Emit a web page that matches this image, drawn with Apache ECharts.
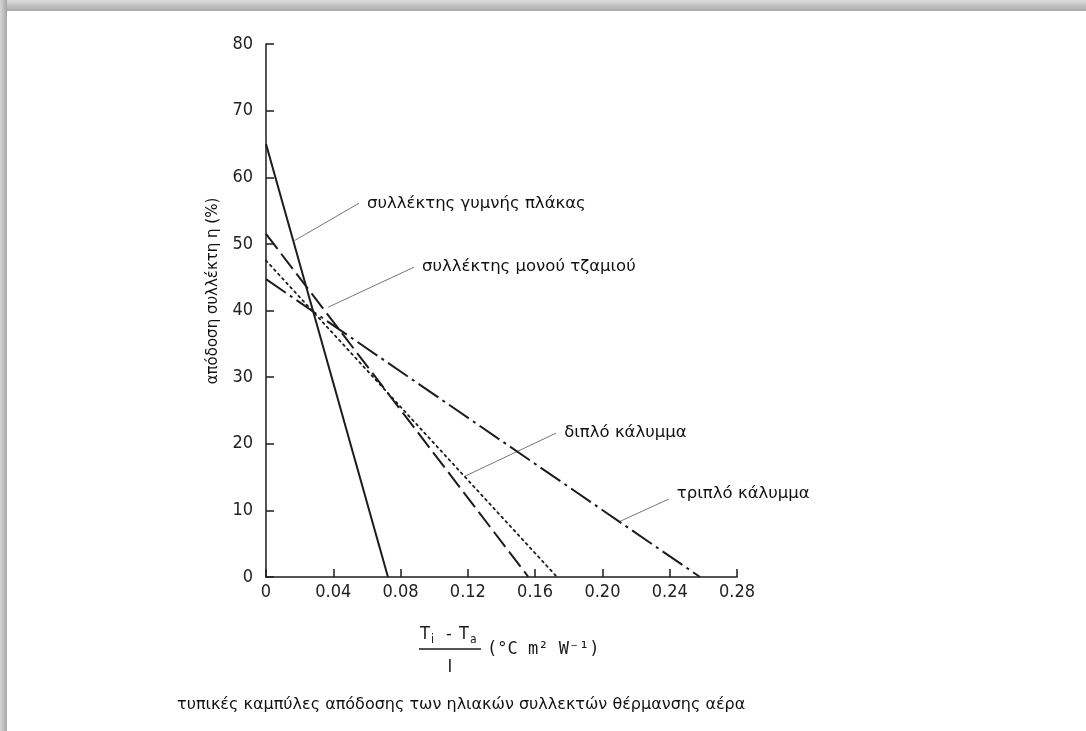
<!DOCTYPE html>
<html>
<head>
<meta charset="utf-8">
<script src="https://cdn.jsdelivr.net/npm/echarts@6/dist/echarts.min.js"></script>
<style>
  html, body { margin: 0; padding: 0; background: #fff; }
  #chart { width: 1086px; height: 731px; }
</style>
</head>
<body>
<div id="chart"></div>
<script>
// Efficiency η (%) of air-heating solar collectors against (Ti - Ta)/I
const bareX   = [0, 0.0725]; const bareY   = [65.0, 0];
const singleX = [0, 0.156];  const singleY = [51.5, 0];
const doubleX = [0, 0.173];  const doubleY = [47.5, 0];
const tripleX = [0, 0.258];  const tripleY = [44.7, 0];

const curveNames = ['συλλέκτης γυμνής πλάκας', 'συλλέκτης μονού τζαμιού', 'διπλό κάλυμμα', 'τριπλό κάλυμμα'];

// Leader lines: [start near the curve, end where the label begins]
const leaderX = [[0.017, 0.0553], [0.037, 0.0880], [0.118, 0.1725], [0.210, 0.2395]];
const leaderY = [[50.5, 56.1],    [40.5, 46.5],    [15.1, 21.6],   [8.3, 11.7]];

const xMin = 0, xMax = 0.28, xStep = 0.04;
const yMin = 0, yMax = 80, yStep = 10;

const yTitle = 'απόδοση συλλέκτη η (%)';
const caption = 'τυπικές καμπύλες απόδοσης των ηλιακών συλλεκτών θέρμανσης αέρα';

const ink = '#1c1c1c';
const tickFont = 'DejaVu Sans Condensed';
const textFont = 'DejaVu Sans';

function pairs(xs, ys) { return xs.map((x, i) => [x, ys[i]]); }

const curveStyles = [
  { type: 'solid', width: 2 },
  { type: [19, 6], width: 2 },
  { type: [2, 4], width: 1.8, cap: 'round' },
  { type: [24, 5, 3, 5], width: 2 }
];
const curveData = [pairs(bareX, bareY), pairs(singleX, singleY), pairs(doubleX, doubleY), pairs(tripleX, tripleY)];
// the label of the last curve sits a little above the end of its leader
const labelOffsets = [[0, 0], [0, 0], [0, 0], [0, -5]];

const series = [];
curveData.forEach((d, i) => {
  series.push({
    name: curveNames[i],
    type: 'line',
    data: d,
    showSymbol: false,
    silent: true,
    z: 3,
    lineStyle: { color: ink, width: curveStyles[i].width, type: curveStyles[i].type, cap: curveStyles[i].cap || 'butt' }
  });
});
leaderX.forEach((xs, i) => {
  series.push({
    name: curveNames[i] + ' ',
    type: 'line',
    data: pairs(xs, leaderY[i]),
    showSymbol: false,
    silent: true,
    z: 2,
    lineStyle: { color: '#777', width: 1 },
    endLabel: {
      show: true,
      formatter: curveNames[i],
      color: '#111',
      fontFamily: textFont,
      fontSize: 16.5,
      distance: 8,
      offset: labelOffsets[i]
    }
  });
});

const chart = echarts.init(document.getElementById('chart'), null, { renderer: 'canvas' });
chart.setOption({
  animation: false,
  backgroundColor: '#ffffff',
  grid: { left: 266, top: 44, width: 471, height: 533, containLabel: false },
  xAxis: {
    type: 'value', min: xMin, max: xMax, interval: xStep,
    axisLine: { show: true, onZero: false, lineStyle: { color: ink, width: 1.5 } },
    axisTick: { show: true, inside: true, length: 8, lineStyle: { color: ink, width: 1.5 } },
    splitLine: { show: false },
    axisLabel: {
      margin: 6, color: '#222', fontFamily: tickFont, fontSize: 18,
      formatter: v => (v === 0 ? '0' : v.toFixed(2))
    }
  },
  yAxis: {
    type: 'value', min: yMin, max: yMax, interval: yStep,
    axisLine: { show: true, onZero: false, lineStyle: { color: ink, width: 1.5 } },
    axisTick: { show: true, inside: true, length: 8, lineStyle: { color: ink, width: 1.5 } },
    splitLine: { show: false },
    axisLabel: { margin: 13, color: '#222', fontFamily: tickFont, fontSize: 18 }
  },
  series: series,
  graphic: [
    // drop shadow along the top and left edges of the page
    { type: 'rect', silent: true, shape: { x: 0, y: 0, width: 1086, height: 11 },
      style: { fill: new echarts.graphic.LinearGradient(0, 0, 0, 1, [
        { offset: 0, color: '#dcdcdc' }, { offset: 1, color: '#a8a8a8' }]) } },
    { type: 'rect', silent: true, shape: { x: 0, y: 0, width: 7, height: 731 },
      style: { fill: new echarts.graphic.LinearGradient(0, 0, 1, 0, [
        { offset: 0, color: '#d6d6d6' }, { offset: 1, color: '#a6a6a6' }]) } },
    // y axis title
    { type: 'text', x: 213, y: 291, rotation: Math.PI / 2,
      style: { text: yTitle, fill: '#111', font: '15px "DejaVu Sans"', textAlign: 'center', textVerticalAlign: 'middle' } },
    // x axis title: (Ti - Ta) / I  (°C m² W⁻¹)
    { type: 'group', children: [
      { type: 'text', x: 420, y: 634, style: { text: 'T', fill: '#1a1a1a', font: '18px "DejaVu Sans Condensed"', textVerticalAlign: 'middle' } },
      { type: 'text', x: 431, y: 640, style: { text: 'i', fill: '#1a1a1a', font: '12px "DejaVu Sans Condensed"', textVerticalAlign: 'middle' } },
      { type: 'text', x: 446, y: 634, style: { text: '-', fill: '#1a1a1a', font: '18px "DejaVu Sans Condensed"', textVerticalAlign: 'middle' } },
      { type: 'text', x: 459, y: 634, style: { text: 'T', fill: '#1a1a1a', font: '18px "DejaVu Sans Condensed"', textVerticalAlign: 'middle' } },
      { type: 'text', x: 470, y: 640, style: { text: 'a', fill: '#1a1a1a', font: '12px "DejaVu Sans Condensed"', textVerticalAlign: 'middle' } },
      { type: 'line', shape: { x1: 419, y1: 649, x2: 481, y2: 649 }, style: { stroke: '#1a1a1a', lineWidth: 1.5 } },
      { type: 'text', x: 450, y: 667, style: { text: 'I', fill: '#1a1a1a', font: '18px "DejaVu Sans Condensed"', textAlign: 'center', textVerticalAlign: 'middle' } },
      { type: 'text', x: 487, y: 650, style: { text: '(°C m² W⁻¹)', fill: '#1a1a1a', font: '17px "DejaVu Sans Mono"', textVerticalAlign: 'middle' } }
    ] },
    // caption under the chart
    { type: 'text', x: 177, y: 705,
      style: { text: caption, fill: '#111', font: '16px "DejaVu Sans"', textVerticalAlign: 'middle' } }
  ]
});
</script>
</body>
</html>
